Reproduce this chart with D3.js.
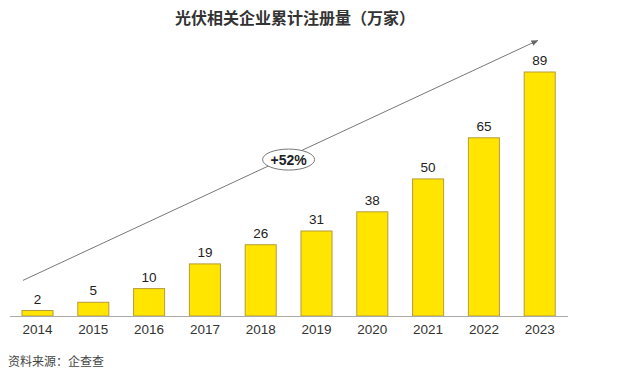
<!DOCTYPE html>
<html>
<head>
<meta charset="utf-8">
<script src="https://cdn.jsdelivr.net/npm/d3@7"></script>
<style>
  body { margin: 0; background: #fff; }
  svg { display: block; font-family: "Liberation Sans", Arial, "Noto Sans CJK SC", sans-serif; }
</style>
</head>
<body>
<div id="chart"></div>
<script>
const years = ["2014", "2015", "2016", "2017", "2018", "2019", "2020", "2021", "2022", "2023"]
const counts = [2, 5, 10, 19, 26, 31, 38, 50, 65, 89]
const titleText = "光伏相关企业累计注册量（万家）"
const sourceText = "资料来源：企查查"
const growthText = "+52%"

const width = 640
const height = 377
const baseY = 316

const svg = d3.select("#chart").append("svg")
    .attr("width", width)
    .attr("height", height)
    .attr("viewBox", [0, 0, width, height])

// scales
const x = d3.scaleBand()
    .domain(years)
    .range([9.6, 567.6])
    .paddingInner(0.444)
    .paddingOuter(0.222)

const y = d3.scaleLinear()
    .domain([0, 89])
    .range([baseY, 72])

// title
svg.append("text")
    .attr("x", 295)
    .attr("y", 24)
    .attr("text-anchor", "middle")
    .attr("font-size", 16)
    .attr("font-weight", "bold")
    .attr("fill", "#333")
    .style("font-family", "'Noto Sans CJK SC', sans-serif")
    .text(titleText)

// arrow marker
svg.append("defs").append("marker")
    .attr("id", "arrow")
    .attr("viewBox", "0 0 10 10")
    .attr("refX", 9)
    .attr("refY", 5)
    .attr("markerWidth", 7)
    .attr("markerHeight", 7)
    .attr("orient", "auto")
    .append("path")
    .attr("d", "M0,1 L10,5 L0,9 z")
    .attr("fill", "#666")

// bars
svg.append("g")
    .selectAll("rect")
    .data(counts)
    .join("rect")
    .attr("x", (d, i) => x(years[i]))
    .attr("width", x.bandwidth())
    .attr("y", d => y(d))
    .attr("height", d => y(0) - y(d))
    .attr("fill", "#FFE500")
    .attr("stroke", "#B89B3A")
    .attr("stroke-width", 1)

// value labels
svg.append("g")
    .selectAll("text")
    .data(counts)
    .join("text")
    .attr("x", (d, i) => x(years[i]) + x.bandwidth() / 2)
    .attr("y", d => y(d) - 7)
    .attr("text-anchor", "middle")
    .attr("font-size", 13.5)
    .attr("fill", "#222")
    .text(d => d)

// x axis
const xAxis = svg.append("g")
    .attr("transform", `translate(0,${baseY})`)
    .call(d3.axisBottom(x).tickSize(0).tickPadding(8).tickSizeOuter(0))
xAxis.select(".domain").attr("stroke", "#aaa")
xAxis.selectAll("text")
    .attr("font-size", 13.5)
    .attr("fill", "#333")
    .style("font-family", "'Liberation Sans', Arial, sans-serif")

// growth arrow
const ax0 = x(years[0]) + 1
const ay0 = y(13)
const ax1 = x(years[9]) + x.bandwidth() / 2 - 2
const ay1 = y(100.5)
svg.append("line")
    .attr("x1", ax0).attr("y1", ay0)
    .attr("x2", ax1).attr("y2", ay1)
    .attr("stroke", "#777")
    .attr("stroke-width", 1)
    .attr("marker-end", "url(#arrow)")

const ex = (x("2018") + x("2019") + x.bandwidth()) / 2
const ey = ay0 + (ay1 - ay0) * (ex - ax0) / (ax1 - ax0)
svg.append("ellipse")
    .attr("cx", ex)
    .attr("cy", ey + 3)
    .attr("rx", 26)
    .attr("ry", 10.5)
    .attr("fill", "#fff")
    .attr("stroke", "#777")
svg.append("text")
    .attr("x", ex)
    .attr("y", ey + 8)
    .attr("text-anchor", "middle")
    .attr("font-size", 14)
    .attr("font-weight", "bold")
    .attr("fill", "#222")
    .text(growthText)

// source
svg.append("text")
    .attr("x", 8)
    .attr("y", 366)
    .attr("font-size", 12)
    .attr("fill", "#444")
    .style("font-family", "'Noto Sans CJK SC', sans-serif")
    .text(sourceText)
</script>
</body>
</html>
